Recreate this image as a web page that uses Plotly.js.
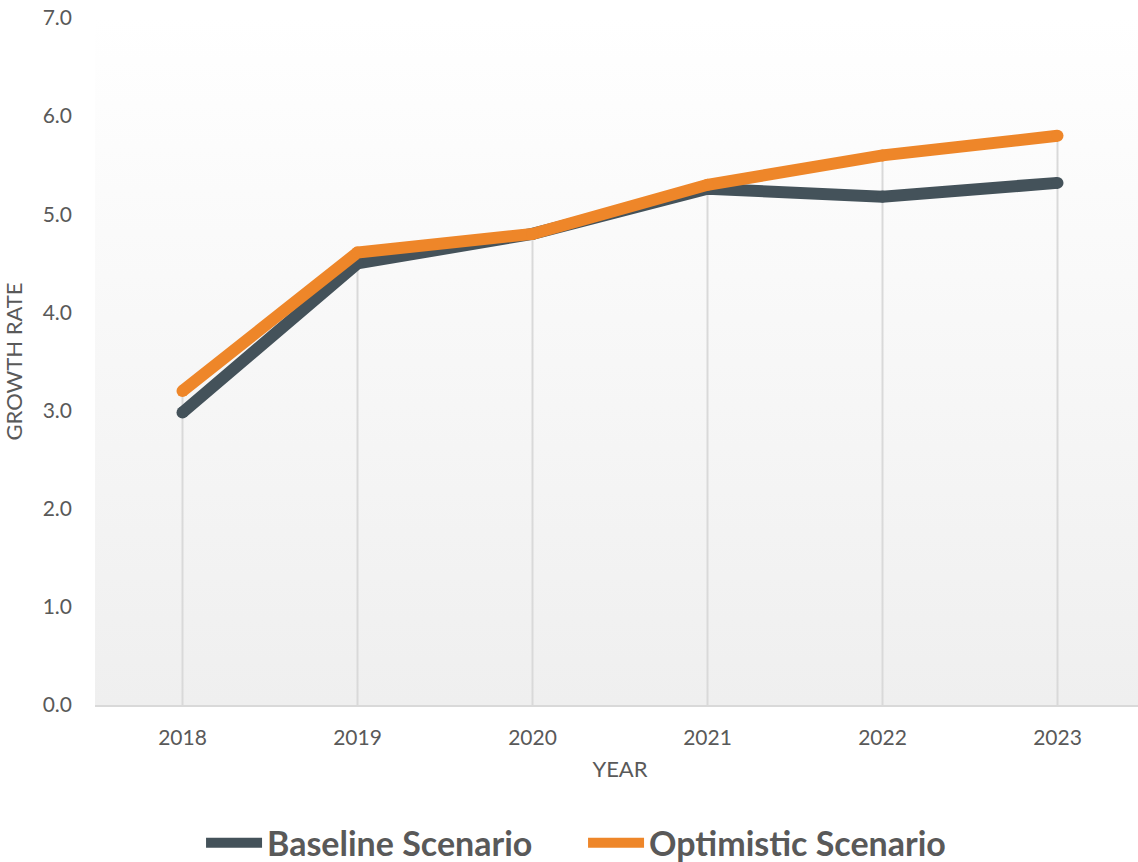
<!DOCTYPE html>
<html>
<head>
<meta charset="utf-8">
<script src="https://cdn.plot.ly/plotly-3.0.1.min.js"></script>
<style>
html,body{margin:0;padding:0;overflow:hidden;background:#fff;}
#chart{width:1150px;height:862px;}
</style>
</head>
<body>
<div id="chart"></div>
<script>
const years = ['2018','2019','2020','2021','2022','2023'];
const baseline = [2.98, 4.50, 4.80, 5.26, 5.18, 5.32];
const optimistic = [3.20, 4.61, 4.80, 5.30, 5.60, 5.80];
const yTicks = [0,1,2,3,4,5,6,7];
const yTickText = ['0.0','1.0','2.0','3.0','4.0','5.0','6.0','7.0'];

const grad = 'data:image/svg+xml;utf8,' + encodeURIComponent(
  '<svg xmlns="http://www.w3.org/2000/svg" width="100" height="100" preserveAspectRatio="none">' +
  '<defs><linearGradient id="g" x1="0" y1="0" x2="0" y2="1">' +
  '<stop offset="0" stop-color="#ffffff"/><stop offset="1" stop-color="#efefef"/>' +
  '</linearGradient></defs><rect width="100" height="100" fill="url(#g)"/></svg>');

// drop lines from the highest value of each year down to the axis
const dropX = [], dropY = [];
years.forEach((yr, i) => {
  dropX.push(yr, yr, null);
  dropY.push(0, Math.max(baseline[i], optimistic[i]), null);
});

const textColor = '#595959';
const dark = '#44525a', orange = '#ee8629';
const traces = [
  {x: dropX, y: dropY, type: 'scatter', mode: 'lines', showlegend: false, hoverinfo: 'skip',
   line: {color: '#d9d9d9', width: 2}, connectgaps: false},
  {x: years, y: baseline, name: 'Baseline Scenario', type: 'scatter', mode: 'lines',
   line: {color: dark, width: 12}},
  {x: years, y: baseline, type: 'scatter', mode: 'markers', showlegend: false,
   marker: {color: dark, size: 12}},
  {x: years, y: optimistic, name: 'Optimistic Scenario', type: 'scatter', mode: 'lines',
   line: {color: orange, width: 12}},
  {x: years, y: optimistic, type: 'scatter', mode: 'markers', showlegend: false,
   marker: {color: orange, size: 12}}
];

const layout = {
  width: 1150, height: 862,
  margin: {l: 95, r: 5, t: 18, b: 157},
  paper_bgcolor: '#ffffff',
  plot_bgcolor: 'rgba(0,0,0,0)',
  font: {family: 'Lato, "Open Sans", sans-serif', color: textColor, size: 21},
  images: [{source: grad, xref: 'paper', yref: 'paper', x: 0, y: 1, sizex: 1, sizey: 1,
            sizing: 'stretch', layer: 'below', xanchor: 'left', yanchor: 'top'}],
  xaxis: {
    type: 'category', range: [-0.5, 5.5],
    showgrid: false,
    showline: true, linecolor: '#d9d9d9', linewidth: 2,
    zeroline: false, ticks: '', ticklabelstandoff: 13,
    tickfont: {size: 21, color: textColor},
    title: {text: 'YEAR', font: {size: 22, color: textColor}, standoff: 13}
  },
  yaxis: {
    range: [0, 7], tickvals: yTicks, ticktext: yTickText,
    showgrid: false, zeroline: false, showline: false, ticks: '',
    ticklabelstandoff: 22,
    tickfont: {size: 21, color: textColor},
    title: {text: 'GROWTH RATE', font: {size: 22, color: textColor}, standoff: 14}
  },
  showlegend: true,
  legend: {
    orientation: 'h', xref: 'container', yref: 'container', x: 0.507, xanchor: 'center',
    y: 0.022, yanchor: 'middle', itemwidth: 56, entrywidth: 311,
    font: {size: 34, color: textColor, family: 'Lato, sans-serif', weight: 'bold'},
    bgcolor: 'rgba(0,0,0,0)', tracegroupgap: 0
  }
};

Plotly.newPlot('chart', traces, layout, {displayModeBar: false, staticPlot: true});
</script>
</body>
</html>
